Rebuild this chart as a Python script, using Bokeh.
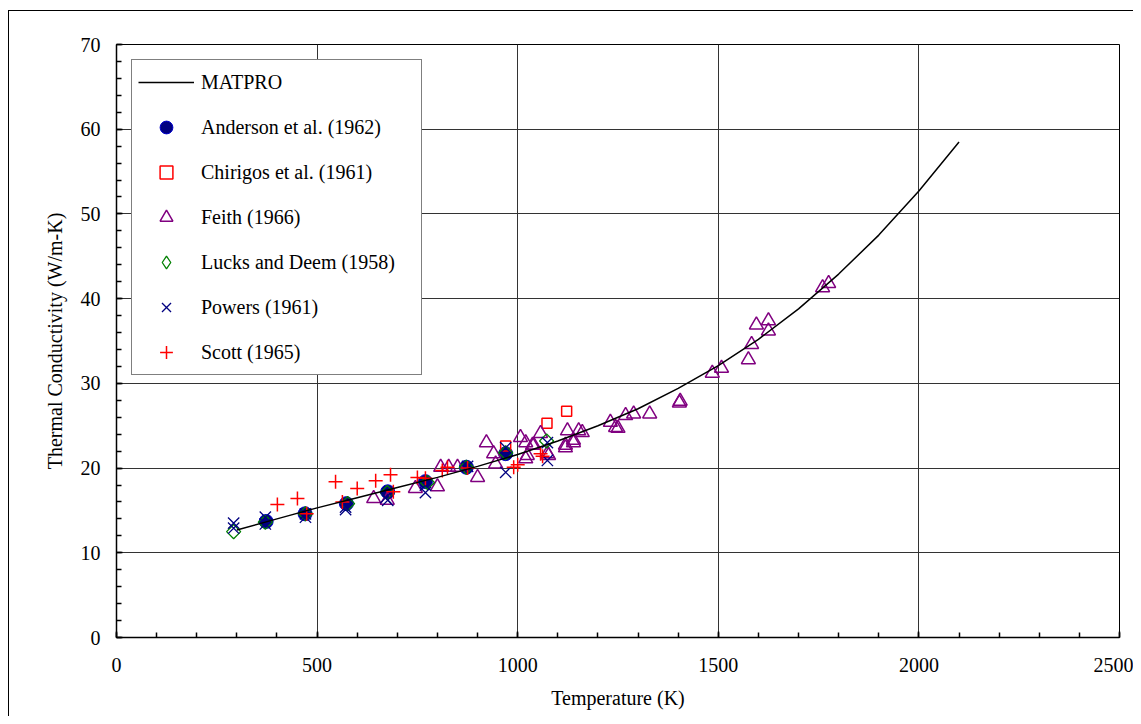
import numpy as np
from bokeh.plotting import figure
from bokeh.models import Legend, LegendItem, SingleIntervalTicker, Range1d
from bokeh.embed import file_html
from bokeh.resources import INLINE

# MATPRO curve (at 100 K steps)
matpro_T = [300, 400, 500, 600, 700, 800, 900, 1000, 1100, 1200, 1300, 1400,
            1500, 1600, 1700, 1800, 1900, 2000, 2100]
matpro_k = [12.7, 14.0, 15.3, 16.5, 17.7, 18.9, 20.2, 21.6, 23.2, 25.0, 27.0,
            29.4, 32.1, 35.2, 38.8, 42.9, 47.5, 52.7, 58.5]

anderson_T = [373, 470, 573, 676, 770, 872, 970]
anderson_k = [13.7, 14.6, 15.8, 17.2, 18.4, 20.1, 21.7]

chirigos_T = [970, 1073, 1122]
chirigos_k = [22.6, 25.3, 26.7]

feith_T = [641, 675, 745, 800, 808, 828, 850, 900, 922, 940, 945, 1007, 1020,
           1024, 1020, 1037, 1040, 1057, 1074, 1077, 1119, 1119, 1124, 1139,
           1139, 1152, 1161, 1231, 1244, 1250, 1269, 1289, 1329, 1403, 1405,
           1485, 1508, 1575, 1583, 1595, 1625, 1625, 1760, 1775]
feith_k = [16.4, 16.2, 17.6, 17.8, 20.1, 20.1, 20.1, 18.9, 23.0, 21.7, 20.5,
           23.6, 23.0, 21.5, 21.1, 22.7, 22.7, 24.1, 21.7, 21.5, 22.7, 22.4,
           24.4, 23.0, 23.3, 24.4, 24.2, 25.4, 24.8, 24.7, 26.2, 26.4, 26.4,
           27.7, 27.9, 31.2, 31.8, 32.8, 34.6, 36.9, 37.4, 36.2, 41.3, 41.8]

lucks_T = [292, 371, 471, 576, 675, 775, 872, 970, 1072]
lucks_k = [12.5, 13.6, 14.6, 15.8, 17.1, 18.3, 20.1, 21.8, 23.2]

powers_T = [292, 292, 371, 371, 471, 471, 571, 571, 671, 676, 770, 770, 875,
            970, 970, 1074, 1074]
powers_k = [13.5, 12.9, 14.2, 13.4, 14.6, 14.2, 15.4, 15.1, 16.5, 16.2, 18.0,
            17.1, 20.2, 22.4, 19.5, 23.0, 20.9]

scott_T = [401, 451, 474, 546, 563, 600, 646, 683, 690, 750, 770, 812, 825,
           875, 990, 1000, 1057, 1062]
scott_k = [15.7, 16.4, 14.6, 18.4, 16.0, 17.6, 18.5, 19.2, 17.2, 18.9, 18.8,
           19.7, 20.1, 20.0, 20.1, 20.4, 21.7, 21.4]

FONT = "Liberation Serif"

p = figure(width=1133, height=716, output_backend="svg", toolbar_location=None,
           x_range=Range1d(0, 2500), y_range=Range1d(0, 70),
           min_border_left=116, min_border_right=14, min_border_top=44,
           min_border_bottom=79)
p.border_fill_color = None
p.styles = {
    "background-color": "white",
    "background-image": "linear-gradient(black, black), linear-gradient(black, black)",
    "background-size": "1px 100%, 100% 1px",
    "background-position": "8px 10px, 8px 10px",
    "background-repeat": "no-repeat",
}

p.background_fill_color = "white"
p.outline_line_color = "black"
p.outline_line_width = 1

p.xaxis.ticker = SingleIntervalTicker(interval=500, num_minor_ticks=5)
p.yaxis.ticker = SingleIntervalTicker(interval=10, num_minor_ticks=5)

for ax in (p.xaxis[0], p.yaxis[0]):
    ax.axis_line_color = "black"
    ax.axis_line_width = 1.5
    ax.major_tick_in = 6
    ax.major_tick_out = 0
    ax.minor_tick_in = 5
    ax.minor_tick_out = 0
    ax.major_tick_line_color = "black"
    ax.minor_tick_line_color = "black"
    ax.major_tick_line_width = 1.5
    ax.minor_tick_line_width = 1.5
    ax.major_label_text_font = FONT
    ax.major_label_text_font_size = "20px"
    ax.major_label_text_color = "black"
    ax.axis_label_text_font = FONT
    ax.axis_label_text_font_size = "20px"
    ax.axis_label_text_font_style = "normal"
    ax.axis_label_text_color = "black"

p.xaxis.axis_label = "Temperature (K)"
p.yaxis.axis_label = "Thermal Conductivity (W/m-K)"
p.xaxis.major_label_standoff = 20
p.yaxis.major_label_standoff = 16
p.xaxis.axis_label_standoff = 12
p.yaxis.axis_label_standoff = 12

p.grid.grid_line_color = "#333333"
p.grid.grid_line_width = 1
p.grid.grid_line_alpha = 1

r_and = p.scatter(anderson_T, anderson_k, marker="circle", size=14,
                  fill_color="#000080", line_color="#0000cc", line_width=1)
r_chi = p.scatter(chirigos_T, chirigos_k, marker="square", size=10,
                  fill_color=None, line_color="#ff0000", line_width=1.5)
r_fei = p.scatter(feith_T, feith_k, marker="triangle", size=14,
                  fill_color=None, line_color="#800080", line_width=1.5)
r_luc = p.scatter(lucks_T, lucks_k, marker="square", angle=np.pi / 4, size=10,
                  fill_color=None, line_color="#008000", line_width=1.3)
# legend-only stand-in for the rotated-square glyph (legend ignores angle)
r_luc_leg = p.scatter(lucks_T, lucks_k, marker="diamond", size=14,
                      fill_color=None, line_color="#008000", line_width=1.3,
                      visible=False)
r_pow = p.scatter(powers_T, powers_k, marker="x", size=16,
                  line_color="#000080", line_width=1.3)
r_sco = p.scatter(scott_T, scott_k, marker="cross", size=14,
                  line_color="#ff0000", line_width=1.5)
r_mat = p.line(matpro_T, matpro_k, line_color="black", line_width=1.5)

legend = Legend(items=[
    LegendItem(label="MATPRO", renderers=[r_mat]),
    LegendItem(label="Anderson et al. (1962)", renderers=[r_and]),
    LegendItem(label="Chirigos et al. (1961)", renderers=[r_chi]),
    LegendItem(label="Feith (1966)", renderers=[r_fei]),
    LegendItem(label="Lucks and Deem (1958)", renderers=[r_luc_leg]),
    LegendItem(label="Powers (1961)", renderers=[r_pow]),
    LegendItem(label="Scott (1965)", renderers=[r_sco]),
], location="top_left")
legend.margin = 15
legend.padding = 6
legend.spacing = 13
legend.glyph_width = 56
legend.glyph_height = 32
legend.label_height = 32
legend.label_width = 214
legend.label_standoff = 7
legend.label_text_font = FONT
legend.label_text_font_size = "20px"
legend.label_text_color = "black"
legend.border_line_color = "black"
legend.border_line_width = 1
legend.background_fill_color = "white"
legend.background_fill_alpha = 1
p.add_layout(legend)

open("out.html", "w").write(file_html(p, INLINE))
